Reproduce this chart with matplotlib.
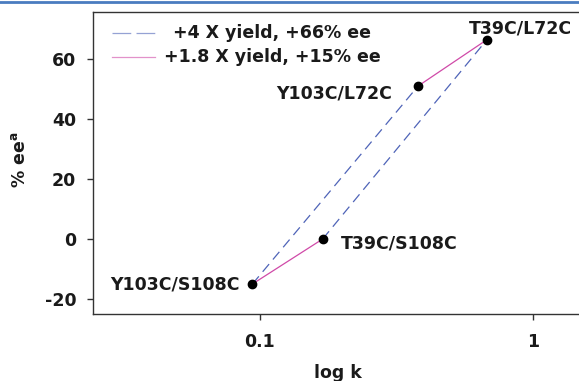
import numpy as np
import matplotlib
matplotlib.use('Agg')
import matplotlib.pyplot as plt
from matplotlib.lines import Line2D

# mutants, rate constant k and % ee
mutants = ['Y103C/S108C', 'T39C/S108C', 'Y103C/L72C', 'T39C/L72C']
k_vals = [0.094, 0.17, 0.38, 0.68]
ee_vals = [-15, 0, 51, 66.5]

# which points are joined by which line
dashed_pairs = [(0, 2), (1, 3)]   # +4 X yield, +66% ee
solid_pairs = [(0, 1), (2, 3)]    # +1.8 X yield, +15% ee
legend_labels = ['+4 X yield, +66% ee', '+1.8 X yield, +15% ee']

x_ticks = [0.1, 1]
x_ticklabels = ['0.1', '1']
y_ticks = [-20, 0, 20, 40, 60]

# label offsets in pixels (dx, dy, ha)
label_offsets = {
    'Y103C/S108C': (-13, 0, 'right'),
    'T39C/S108C': (18, -4, 'left'),
    'Y103C/L72C': (-26, -7, 'right'),
    'T39C/L72C': (33, 11, 'center'),
}

blue = '#4f64b8'
magenta = '#d04aa8'
txt = '#1a1a1a'
fs = 12.5

plt.rcParams['font.family'] = 'DejaVu Sans'
plt.rcParams['font.weight'] = 'bold'
plt.rcParams['lines.scale_dashes'] = False
plt.rcParams['axes.unicode_minus'] = False

W, H = 579, 381
fig = plt.figure(figsize=(W / 100, H / 100), dpi=100)

# axes: left spine at x=93, top 12, bottom 314, right side runs off the canvas
decade = 273.0
xlo, xhi = 0.0245, 1.6
ax_w = (np.log10(xhi) - np.log10(xlo)) * decade
ax = fig.add_axes([93 / W, (H - 314) / H, ax_w / W, (314 - 12) / H])
ax.set_xscale('log')
ax.set_xlim(xlo, xhi)
ax.set_ylim(-25, 75.7)

dash = (0, (7.2, 4.3))
for i, j in dashed_pairs:
    ax.plot([k_vals[i], k_vals[j]], [ee_vals[i], ee_vals[j]],
            color=blue, lw=0.9, linestyle=dash, zorder=2)
for i, j in solid_pairs:
    ax.plot([k_vals[i], k_vals[j]], [ee_vals[i], ee_vals[j]],
            color=magenta, lw=0.9, zorder=2)

ax.plot(k_vals, ee_vals, 'o', color='black', markersize=6, zorder=3)

for name, kx, ey in zip(mutants, k_vals, ee_vals):
    dx, dy, ha = label_offsets[name]
    ax.annotate(name, (kx, ey), xytext=(dx * 0.72, dy * 0.72),
                textcoords='offset points', ha=ha, va='center',
                fontsize=fs, fontweight='bold', color=txt)

ax.set_xticks(x_ticks)
ax.set_xticklabels(x_ticklabels)
ax.xaxis.set_minor_locator(matplotlib.ticker.NullLocator())
ax.set_yticks(y_ticks)
ax.tick_params(axis='both', direction='out', length=4, width=1,
               color='#333333', labelsize=fs, labelcolor=txt)
ax.tick_params(axis='y', pad=8)
ax.tick_params(axis='x', pad=10)
for lbl in ax.get_xticklabels() + ax.get_yticklabels():
    lbl.set_fontweight('bold')
for s in ['left', 'bottom', 'top']:
    ax.spines[s].set_color('#333333')
    ax.spines[s].set_linewidth(1.0)
ax.spines['right'].set_visible(False)

# axis titles
fig.text(20 / W, 1 - 160 / H, r'% ee$^{\mathbf{a}}$', rotation=90,
         ha='center', va='center', fontsize=fs, fontweight='bold', color=txt)
fig.text(338 / W, 1 - 373 / H, 'log k', ha='center', va='center',
         fontsize=fs, fontweight='bold', color=txt)

# legend with centred text
leg_dash = (0, (13.5, 3.8))
leg_rows = [(33, blue, leg_dash), (57, magenta, '-')]
for (yp, col, ls), lab in zip(leg_rows, legend_labels):
    yf = 1 - yp / H
    fig.add_artist(Line2D([112 / W, 155 / W], [yf, yf], color=col, lw=0.9,
                          alpha=0.6, linestyle=ls, transform=fig.transFigure))
    fig.text(272 / W, yf, lab, ha='center', va='center', fontsize=fs,
             fontweight='bold', color=txt)

# blue rule at the very top of the page
fig.add_artist(Line2D([0, 1], [1 - 2 / H, 1 - 2 / H], color='#4a7cc0', lw=2,
                      transform=fig.transFigure))

fig.savefig('out.png', dpi=100)
